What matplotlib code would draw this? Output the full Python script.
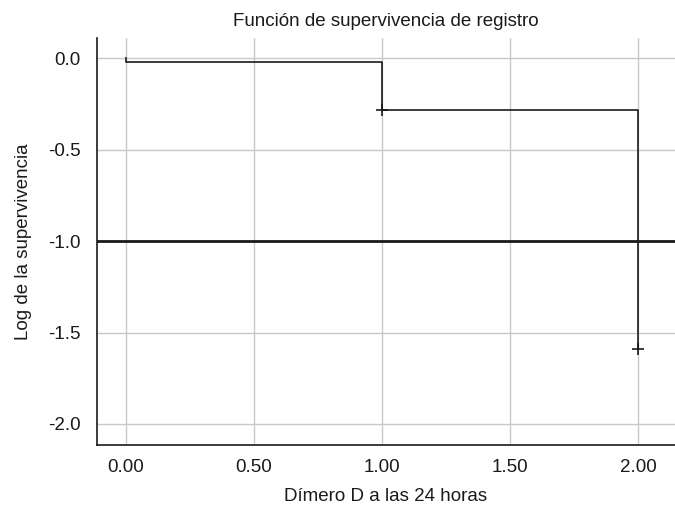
"""Log survival function step plot (SPSS style)."""

import matplotlib

matplotlib.use("Agg")

import matplotlib.pyplot as plt

# Step function: (time, log survival)
step_x = [0.0, 0.0, 1.0, 1.0, 2.0, 2.0]
step_y = [0.0, -0.02, -0.02, -0.284, -0.284, -1.59]

# Censored observations
censor_x = [1.0, 2.0]
censor_y = [-0.284, -1.59]

reference_y = -1.0

x_ticks = [0.0, 0.5, 1.0, 1.5, 2.0]
y_ticks = [0.0, -0.5, -1.0, -1.5, -2.0]


def main() -> None:
    plt.rcParams["font.family"] = ["Liberation Sans", "DejaVu Sans"]

    fig = plt.figure(figsize=(6.75, 5.09), dpi=100, facecolor="white")
    ax = fig.add_axes([0.1437, 0.1257, 0.8563, 0.7996])

    ax.plot(step_x, step_y, color="#1a1a1a", linewidth=1.2, zorder=3)
    ax.plot(censor_x, censor_y, linestyle="none", marker="+", markersize=9,
            markeredgewidth=1.2, color="#1a1a1a", zorder=4)
    ax.axhline(reference_y, color="#1a1a1a", linewidth=2.0, zorder=3)

    ax.set_xlim(-0.113, 2.145)
    ax.set_ylim(-2.115, 0.11)
    ax.set_xticks(x_ticks)
    ax.set_xticklabels([f"{v:.2f}" for v in x_ticks])
    ax.set_yticks(y_ticks)
    ax.set_yticklabels([f"{v:.1f}" for v in y_ticks])
    ax.grid(True, color="#c8c8c8", linewidth=1.0, zorder=0)
    ax.set_axisbelow(True)

    for side in ("top", "right"):
        ax.spines[side].set_visible(False)
    for side in ("left", "bottom"):
        ax.spines[side].set_color("#1a1a1a")
        ax.spines[side].set_linewidth(1.2)

    ax.tick_params(length=0, labelsize=13.5, colors="#1a1a1a")
    ax.tick_params(axis="x", pad=10)
    ax.tick_params(axis="y", pad=12)

    ax.set_title("Función de supervivencia de registro", fontsize=13.5,
                 color="#1a1a1a", pad=9)
    ax.set_xlabel("Dímero D a las 24 horas", fontsize=13.5, color="#1a1a1a",
                  labelpad=9)
    ax.set_ylabel("Log de la supervivencia", fontsize=13.5, color="#1a1a1a",
                  labelpad=11)

    fig.savefig("out.png", dpi=100, facecolor="white")
    plt.close(fig)


if __name__ == "__main__":
    main()
